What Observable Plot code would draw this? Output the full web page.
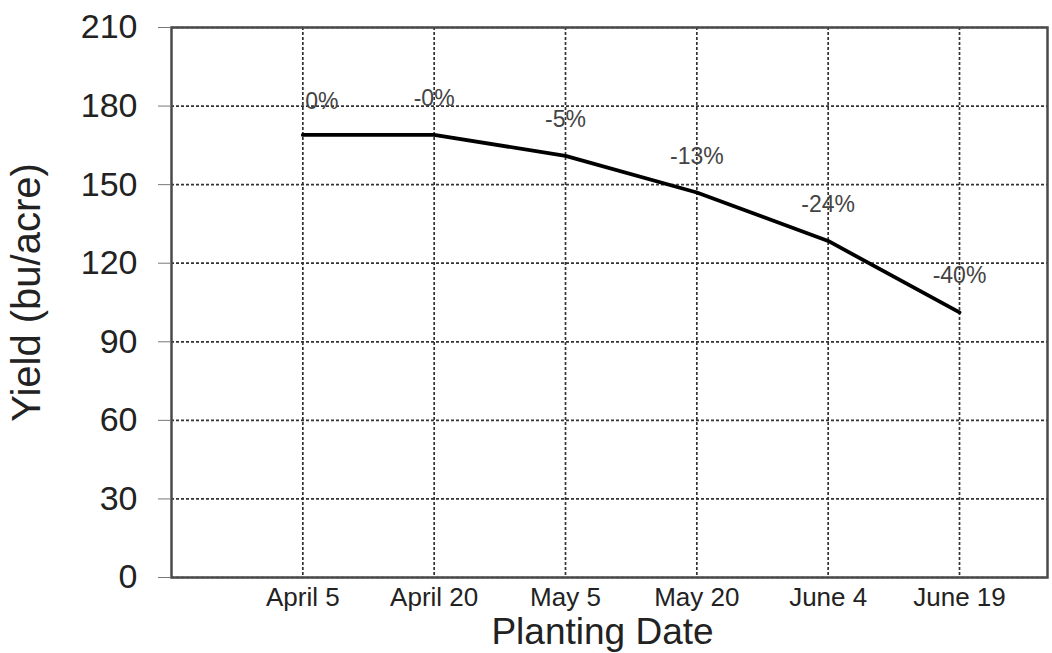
<!DOCTYPE html>
<html>
<head>
<meta charset="utf-8">
<script src="https://cdn.jsdelivr.net/npm/d3@7"></script>
<script src="https://cdn.jsdelivr.net/npm/@observablehq/plot@0.6"></script>
<style>
  html, body { margin: 0; padding: 0; background: white; }
</style>
</head>
<body>
<div id="chart"></div>
<script>
const dates = ["April 5", "April 20", "May 5", "May 20", "June 4", "June 19"];
const yields = [169, 169, 161, 147, 128.5, 101.2];
const changeLabels = ["0%", "-0%", "-5%", "-13%", "-24%", "-40%"];
const yTicks = [0, 30, 60, 90, 120, 150, 180, 210];

const positions = dates.map((d, i) => i + 1);
const data = dates.map((d, i) => ({pos: positions[i], date: d, yield: yields[i], label: changeLabels[i]}));

const font = "'Liberation Sans', Arial, Helvetica, sans-serif";

const chart = Plot.plot({
  width: 1052,
  height: 653,
  marginLeft: 171,
  marginRight: 5,
  marginTop: 27,
  marginBottom: 76,
  style: {fontFamily: font, background: "white", color: "#222"},
  x: {type: "linear", domain: [0, 6.67]},
  y: {domain: [0, 210]},
  marks: [
    Plot.gridY(yTicks, {stroke: "#333", strokeOpacity: 1, strokeWidth: 1.7, strokeDasharray: "3,2"}),
    Plot.gridX(positions, {stroke: "#333", strokeOpacity: 1, strokeWidth: 1.7, strokeDasharray: "3,2"}),
    Plot.frame({stroke: "#4a4a4a", strokeWidth: 2.5}),
    Plot.axisY(yTicks, {tickSize: 13, tickPadding: 21, fontSize: 34, stroke: "#777", fill: "#222", label: null, tickFormat: d => String(d)}),
    Plot.axisX(positions, {tickSize: 0, tickPadding: 10, fontSize: 26, fill: "#222", label: null, tickFormat: d => dates[Math.round(d) - 1]}),
    Plot.line(data, {x: "pos", y: "yield", stroke: "black", strokeWidth: 3.8}),
    Plot.text(data.slice(0, 1), {x: "pos", y: "yield", text: "label", dx: 19, dy: -26, lineAnchor: "bottom", fontSize: 23, fill: "#444"}),
    Plot.text(data.slice(1), {x: "pos", y: "yield", text: "label", dy: -29, lineAnchor: "bottom", fontSize: 23, fill: "#444"}),
    Plot.text(["Yield (bu/acre)"], {frameAnchor: "left", textAnchor: "middle", lineAnchor: "middle", rotate: -90, dx: -144, dy: -10, fontSize: 40, fill: "#222"}),
    Plot.text(["Planting Date"], {frameAnchor: "bottom", textAnchor: "middle", lineAnchor: "bottom", dx: -7, dy: 66, fontSize: 37, fill: "#222"})
  ]
});

document.getElementById("chart").appendChild(chart);
</script>
</body>
</html>
